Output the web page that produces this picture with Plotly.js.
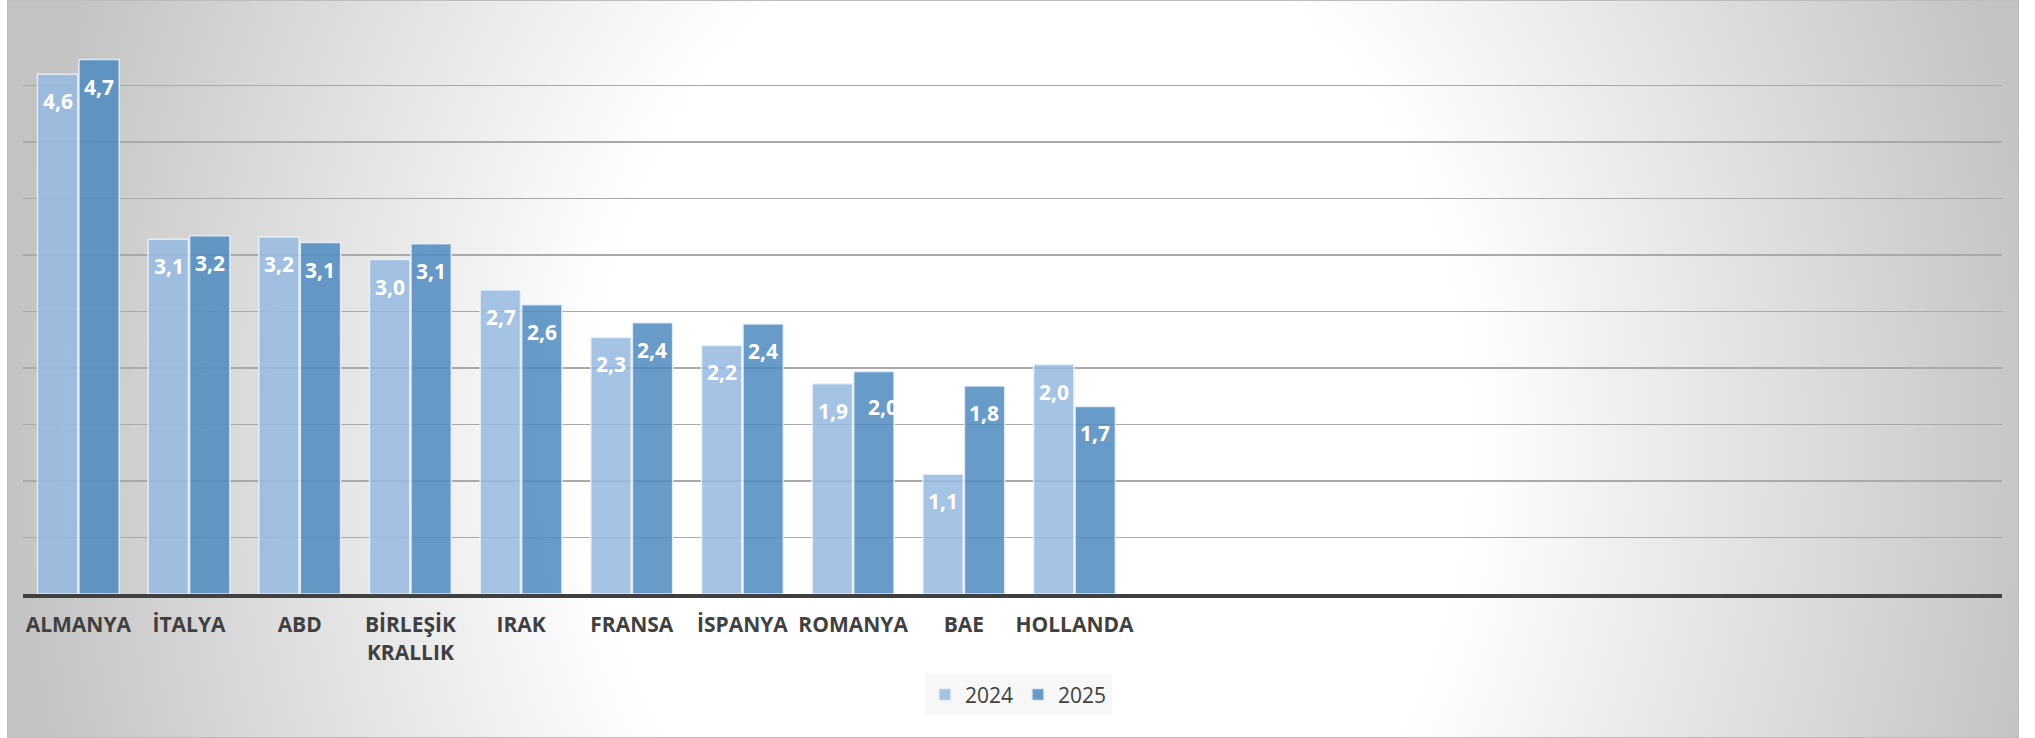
<!DOCTYPE html>
<html>
<head>
<meta charset="utf-8">
<script src="https://cdn.plot.ly/plotly-3.0.1.min.js"></script>
<style>
  html, body { margin: 0; padding: 0; background: #ffffff; }
  #wrap { position: relative; width: 2035px; height: 738px; overflow: hidden; }
  #bg {
    position: absolute; left: 7px; top: 0px; width: 2010px; height: 736px;
    border: 1px solid #bdbdbd;
    background: radial-gradient(ellipse 1000px 1225px at 1023px 440px, #ffffff 0%, #ffffff 44%, #c3c3c3 102%);
  }
  #chart { position: absolute; left: 0; top: 0; width: 2035px; height: 738px; }
</style>
</head>
<body>
<div id="wrap">
  <div id="bg"></div>
  <div id="chart"></div>
</div>
<script>
// ---- data ----
const categories = ["ALMANYA", "İTALYA", "ABD", "BİRLEŞİK<br>KRALLIK", "IRAK", "FRANSA", "İSPANYA", "ROMANYA", "BAE", "HOLLANDA"];
const seriesNames = ["2024", "2025"];
const values2024 = [4.60, 3.14, 3.16, 2.96, 2.69, 2.27, 2.20, 1.86, 1.06, 2.03];
const values2025 = [4.73, 3.17, 3.11, 3.10, 2.56, 2.40, 2.39, 1.97, 1.84, 1.66];

// ---- style ----
const FONT = "Open Sans, DejaVu Sans, sans-serif";
const colors = ["rgba(150,185,223,0.86)", "rgba(79,139,191,0.86)"];
const labelShiftX = 20.5;   // half a bar slot, px
const labelShiftY = -27;    // label centre below bar top, px
// manual nudge of one label, as in the reference
const labelNudge = { "2025|ROMANYA": [9, -9] };

function fmt(v) { return v.toFixed(1).replace(".", ","); }

const allSeries = [values2024, values2025];
const traces = allSeries.map((vals, i) => ({
  type: "bar",
  name: seriesNames[i],
  x: categories,
  y: vals,
  marker: { color: colors[i], line: { color: "rgba(235,242,250,0.85)", width: 1.5 } },
  hoverinfo: "skip"
}));

const annotations = [];
allSeries.forEach((vals, i) => {
  vals.forEach((v, j) => {
    const key = seriesNames[i] + "|" + categories[j];
    const n = labelNudge[key] || [0, 0];
    annotations.push({
      x: categories[j], y: v, xref: "x", yref: "y",
      text: fmt(v), showarrow: false,
      xanchor: "center", yanchor: "middle",
      xshift: (i === 0 ? -labelShiftX : labelShiftX) + n[0],
      yshift: labelShiftY + n[1],
      font: { family: FONT, size: 21, color: "#ffffff", weight: 700 }
    });
  });
});

const layout = {
  width: 2035, height: 738,
  margin: { l: 23, r: 33, t: 29, b: 144, pad: 0 },
  paper_bgcolor: "rgba(0,0,0,0)",
  plot_bgcolor: "rgba(0,0,0,0)",
  barmode: "group",
  bargap: 0.25,
  bargroupgap: 0.03,
  showlegend: true,
  legend: {
    orientation: "h", x: 0.503, xanchor: "center", y: -0.142, yanchor: "top",
    bgcolor: "#f7f7f7", borderwidth: 0,
    font: { family: FONT, size: 21, color: "#404040" }
  },
  xaxis: {
    type: "category",
    categoryorder: "array", categoryarray: categories,
    range: [-0.5, 17.38],
    showgrid: false, zeroline: false,
    showline: true, linecolor: "#404040", linewidth: 4,
    ticks: "", ticklabelstandoff: 9,
    tickfont: { family: FONT, size: 21, color: "#404040", weight: 700 },
    fixedrange: true
  },
  yaxis: {
    range: [0, 5], tick0: 0, dtick: 0.5,
    showticklabels: false, ticks: "",
    showgrid: true, gridcolor: "#a9a9a9", gridwidth: 1.5,
    zeroline: false, showline: false, fixedrange: true
  },
  annotations: annotations
};

Plotly.newPlot("chart", traces, layout, { staticPlot: true, displayModeBar: false });
</script>
</body>
</html>
